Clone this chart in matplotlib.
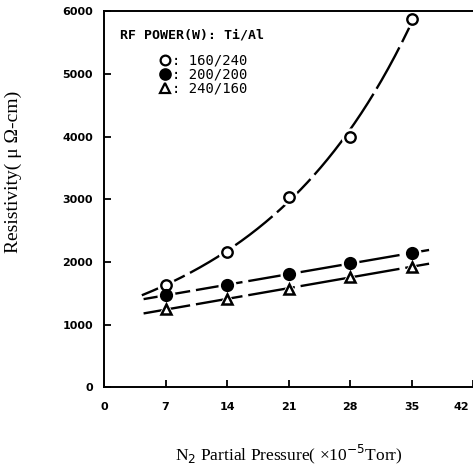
import numpy as np
import matplotlib
matplotlib.use("Agg")
import matplotlib.pyplot as plt
import matplotlib.transforms as mtransforms
from matplotlib.lines import Line2D

# N2 partial pressure (x10^-5 Torr)
pressure = [7, 14, 21, 28, 35]

# resistivity (micro-ohm cm) for RF power Ti/Al
res_160_240 = [1630, 2160, 3040, 4000, 5870]
res_200_200 = [1470, 1630, 1800, 1980, 2140]
res_240_160 = [1240, 1410, 1570, 1760, 1920]

labels = [": 160/240", ": 200/200", ": 240/160"]
xticks = [0, 7, 14, 21, 28, 35, 42]
yticks = [0, 1000, 2000, 3000, 4000, 5000, 6000]

fig = plt.figure(figsize=(4.73, 4.71), dpi=100)
ax = fig.add_axes([0.22, 0.178, 0.78, 0.798])

dash = (0, (20, 2.5))
x = np.array(pressure, dtype=float)

# fitted curves, drawn behind the markers
fit = np.polyfit(x, np.log(res_160_240), 2)
xs = np.linspace(4.3, 34.8, 200)
ax.plot(xs, np.exp(np.polyval(fit, xs)), color="black", lw=1.7, ls=dash, zorder=1)
for vals in (res_200_200, res_240_160):
    fit = np.polyfit(x, vals, 1)
    xs = np.linspace(4.5, 37, 100)
    ax.plot(xs, np.polyval(fit, xs), color="black", lw=1.7, ls=dash, zorder=1)

# white halo so the fitted lines break around each marker
for vals, m in ((res_160_240, "o"), (res_200_200, "o"), (res_240_160, "^")):
    ax.plot(pressure, vals, ls="none", marker=m, ms=12, mfc="white", mec="white", zorder=2)

ax.plot(pressure, res_160_240, ls="none", marker="o", ms=7.5, mfc="white",
        mec="black", mew=1.7, zorder=3)
ax.plot(pressure, res_200_200, ls="none", marker="o", ms=8, mfc="black",
        mec="black", mew=1.5, zorder=3)
ax.plot(pressure, res_240_160, ls="none", marker="^", ms=7, mfc="white",
        mec="black", mew=1.8, zorder=3)

handles = [
    Line2D([], [], ls="none", marker="o", ms=7, mfc="white", mec="black", mew=1.6),
    Line2D([], [], ls="none", marker="o", ms=7.5, mfc="black", mec="black", mew=1.6),
    Line2D([], [], ls="none", marker="^", ms=7, mfc="white", mec="black", mew=1.6),
]
ax.text(0.043, 0.936, "RF POWER(W): Ti/Al", transform=ax.transAxes,
        family="DejaVu Sans Mono", weight="bold", fontsize=9.5, va="center")
ax.legend(handles, labels, loc="upper left", bbox_to_anchor=(0.13, 0.905),
          frameon=False, handlelength=0.8, handletextpad=0.15, labelspacing=0.0,
          borderpad=0.0, prop={"family": "DejaVu Sans Mono", "size": 10})

ax.set_xlim(0, 41.7)
ax.set_ylim(0, 6000)
ax.set_xticks(xticks)
ax.set_yticks(yticks)
ax.tick_params(direction="in", length=5, width=1.3, labelsize=8)
ax.tick_params(axis="x", pad=11)
ax.tick_params(axis="y", pad=8)
for lab in ax.get_xticklabels() + ax.get_yticklabels():
    lab.set_fontweight("bold")
# last x tick label sits at the figure edge; nudge it left so it stays visible
last = ax.get_xticklabels()[-1]
last.set_transform(last.get_transform() +
                   mtransforms.ScaledTranslation(-0.12, 0, fig.dpi_scale_trans))
for s in ("left", "bottom", "top"):
    ax.spines[s].set_linewidth(1.4)
ax.spines["right"].set_visible(False)

ax.set_ylabel("Resistivity( μ Ω-cm)", family="Liberation Serif", fontsize=14)
ax.yaxis.set_label_coords(-0.222, 0.572)
ax.set_xlabel(r"N$_2$ Partial Pressure( ×10$^{-5}$Torr)", family="Liberation Serif",
              fontsize=12.5)
ax.xaxis.set_label_coords(0.5, -0.149)

fig.savefig("out.png", dpi=100)
